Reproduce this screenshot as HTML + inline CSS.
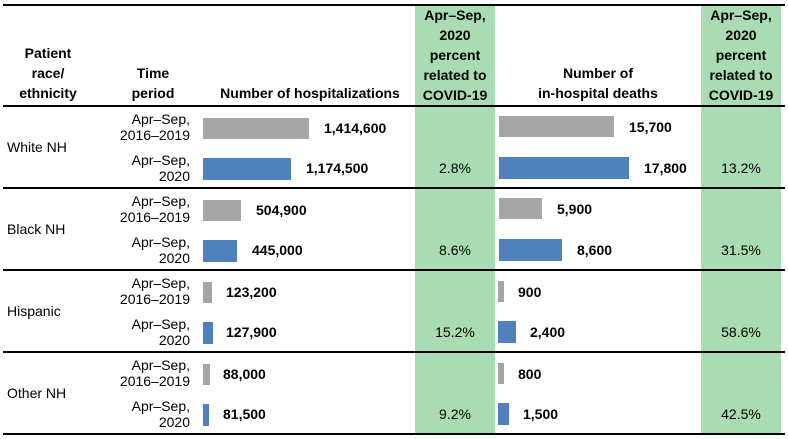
<!DOCTYPE html>
<html><head><meta charset="utf-8"><style>
body{margin:0;width:788px;height:439px;background:#fff;font-family:"Liberation Sans",Arial,sans-serif;font-size:14px;color:#000;position:relative;overflow:hidden}
div{position:absolute}
.g{background:#a9dcb3}
.ln{background:#000;left:3px;width:782px}
.b{font-weight:bold}
.h{font-weight:bold;text-align:center;line-height:20px}
.tp{left:90px;width:100px;text-align:right;line-height:16px}
.gr{background:#a5a5a5;height:21px}
.bl{background:#4f81bd;height:22px}
.pc{text-align:center;width:80px}
</style></head><body>
<div class="g" style="left:415px;top:6px;width:80px;height:428px"></div>
<div class="g" style="left:701px;top:6px;width:80px;height:428px"></div>
<div class="ln" style="top:4px;height:2px"></div>
<div class="ln" style="top:105px;height:2px"></div>
<div class="ln" style="top:187px;height:2px"></div>
<div class="ln" style="top:269px;height:2px"></div>
<div class="ln" style="top:351px;height:2px"></div>
<div class="ln" style="top:433px;height:2px"></div>

<div class="h" style="left:6px;width:84px;top:43px">Patient<br>race/<br>ethnicity</div>
<div class="h" style="left:118px;width:70px;top:63px">Time<br>period</div>
<div class="h" style="left:205px;width:210px;top:83px">Number of hospitalizations</div>
<div class="h" style="left:412px;width:86px;top:5px">Apr–Sep,<br>2020<br>percent<br>related to<br>COVID-19</div>
<div class="h" style="left:495px;width:206px;top:63px">Number of<br>in-hospital deaths</div>
<div class="h" style="left:698px;width:86px;top:5px">Apr–Sep,<br>2020<br>percent<br>related to<br>COVID-19</div>

<div style="left:7px;top:139px">White NH</div>
<div style="left:7px;top:221px">Black NH</div>
<div style="left:7px;top:303px">Hispanic</div>
<div style="left:7px;top:385px">Other NH</div>

<div class="tp" style="top:111px">Apr–Sep,<br>2016–2019</div>
<div class="tp" style="top:152px">Apr–Sep,<br>2020</div>
<div class="tp" style="top:193px">Apr–Sep,<br>2016–2019</div>
<div class="tp" style="top:234px">Apr–Sep,<br>2020</div>
<div class="tp" style="top:275px">Apr–Sep,<br>2016–2019</div>
<div class="tp" style="top:316px">Apr–Sep,<br>2020</div>
<div class="tp" style="top:357px">Apr–Sep,<br>2016–2019</div>
<div class="tp" style="top:398px">Apr–Sep,<br>2020</div>

<div class="gr" style="left:203px;top:118px;width:106px"></div><div class="b" style="left:324px;top:120px">1,414,600</div>
<div class="bl" style="left:203px;top:158px;width:88px"></div><div class="b" style="left:306px;top:160px">1,174,500</div>
<div class="gr" style="left:203px;top:200px;width:38px"></div><div class="b" style="left:256px;top:202px">504,900</div>
<div class="bl" style="left:203px;top:240px;width:34px"></div><div class="b" style="left:252px;top:242px">445,000</div>
<div class="gr" style="left:203px;top:282px;width:9px"></div><div class="b" style="left:226px;top:284px">123,200</div>
<div class="bl" style="left:203px;top:322px;width:10px"></div><div class="b" style="left:226px;top:324px">127,900</div>
<div class="gr" style="left:203px;top:364px;width:7px"></div><div class="b" style="left:223px;top:366px">88,000</div>
<div class="bl" style="left:203px;top:404px;width:6px"></div><div class="b" style="left:223px;top:406px">81,500</div>

<div class="pc" style="left:415px;top:160px">2.8%</div>
<div class="pc" style="left:415px;top:242px">8.6%</div>
<div class="pc" style="left:415px;top:324px">15.2%</div>
<div class="pc" style="left:415px;top:406px">9.2%</div>
<div class="pc" style="left:701px;top:160px">13.2%</div>
<div class="pc" style="left:701px;top:242px">31.5%</div>
<div class="pc" style="left:701px;top:324px">58.6%</div>
<div class="pc" style="left:701px;top:406px">42.5%</div>

<div class="gr" style="left:499px;top:116px;width:115px"></div><div class="b" style="left:629px;top:119px">15,700</div>
<div class="bl" style="left:499px;top:157px;width:130px"></div><div class="b" style="left:644px;top:160px">17,800</div>
<div class="gr" style="left:499px;top:198px;width:43px"></div><div class="b" style="left:557px;top:201px">5,900</div>
<div class="bl" style="left:499px;top:239px;width:63px"></div><div class="b" style="left:577px;top:242px">8,600</div>
<div class="gr" style="left:498px;top:281px;width:6px"></div><div class="b" style="left:518px;top:284px">900</div>
<div class="bl" style="left:498px;top:321px;width:18px"></div><div class="b" style="left:530px;top:324px">2,400</div>
<div class="gr" style="left:498px;top:363px;width:6px"></div><div class="b" style="left:518px;top:366px">800</div>
<div class="bl" style="left:498px;top:403px;width:11px"></div><div class="b" style="left:523px;top:406px">1,500</div>
</body></html>
